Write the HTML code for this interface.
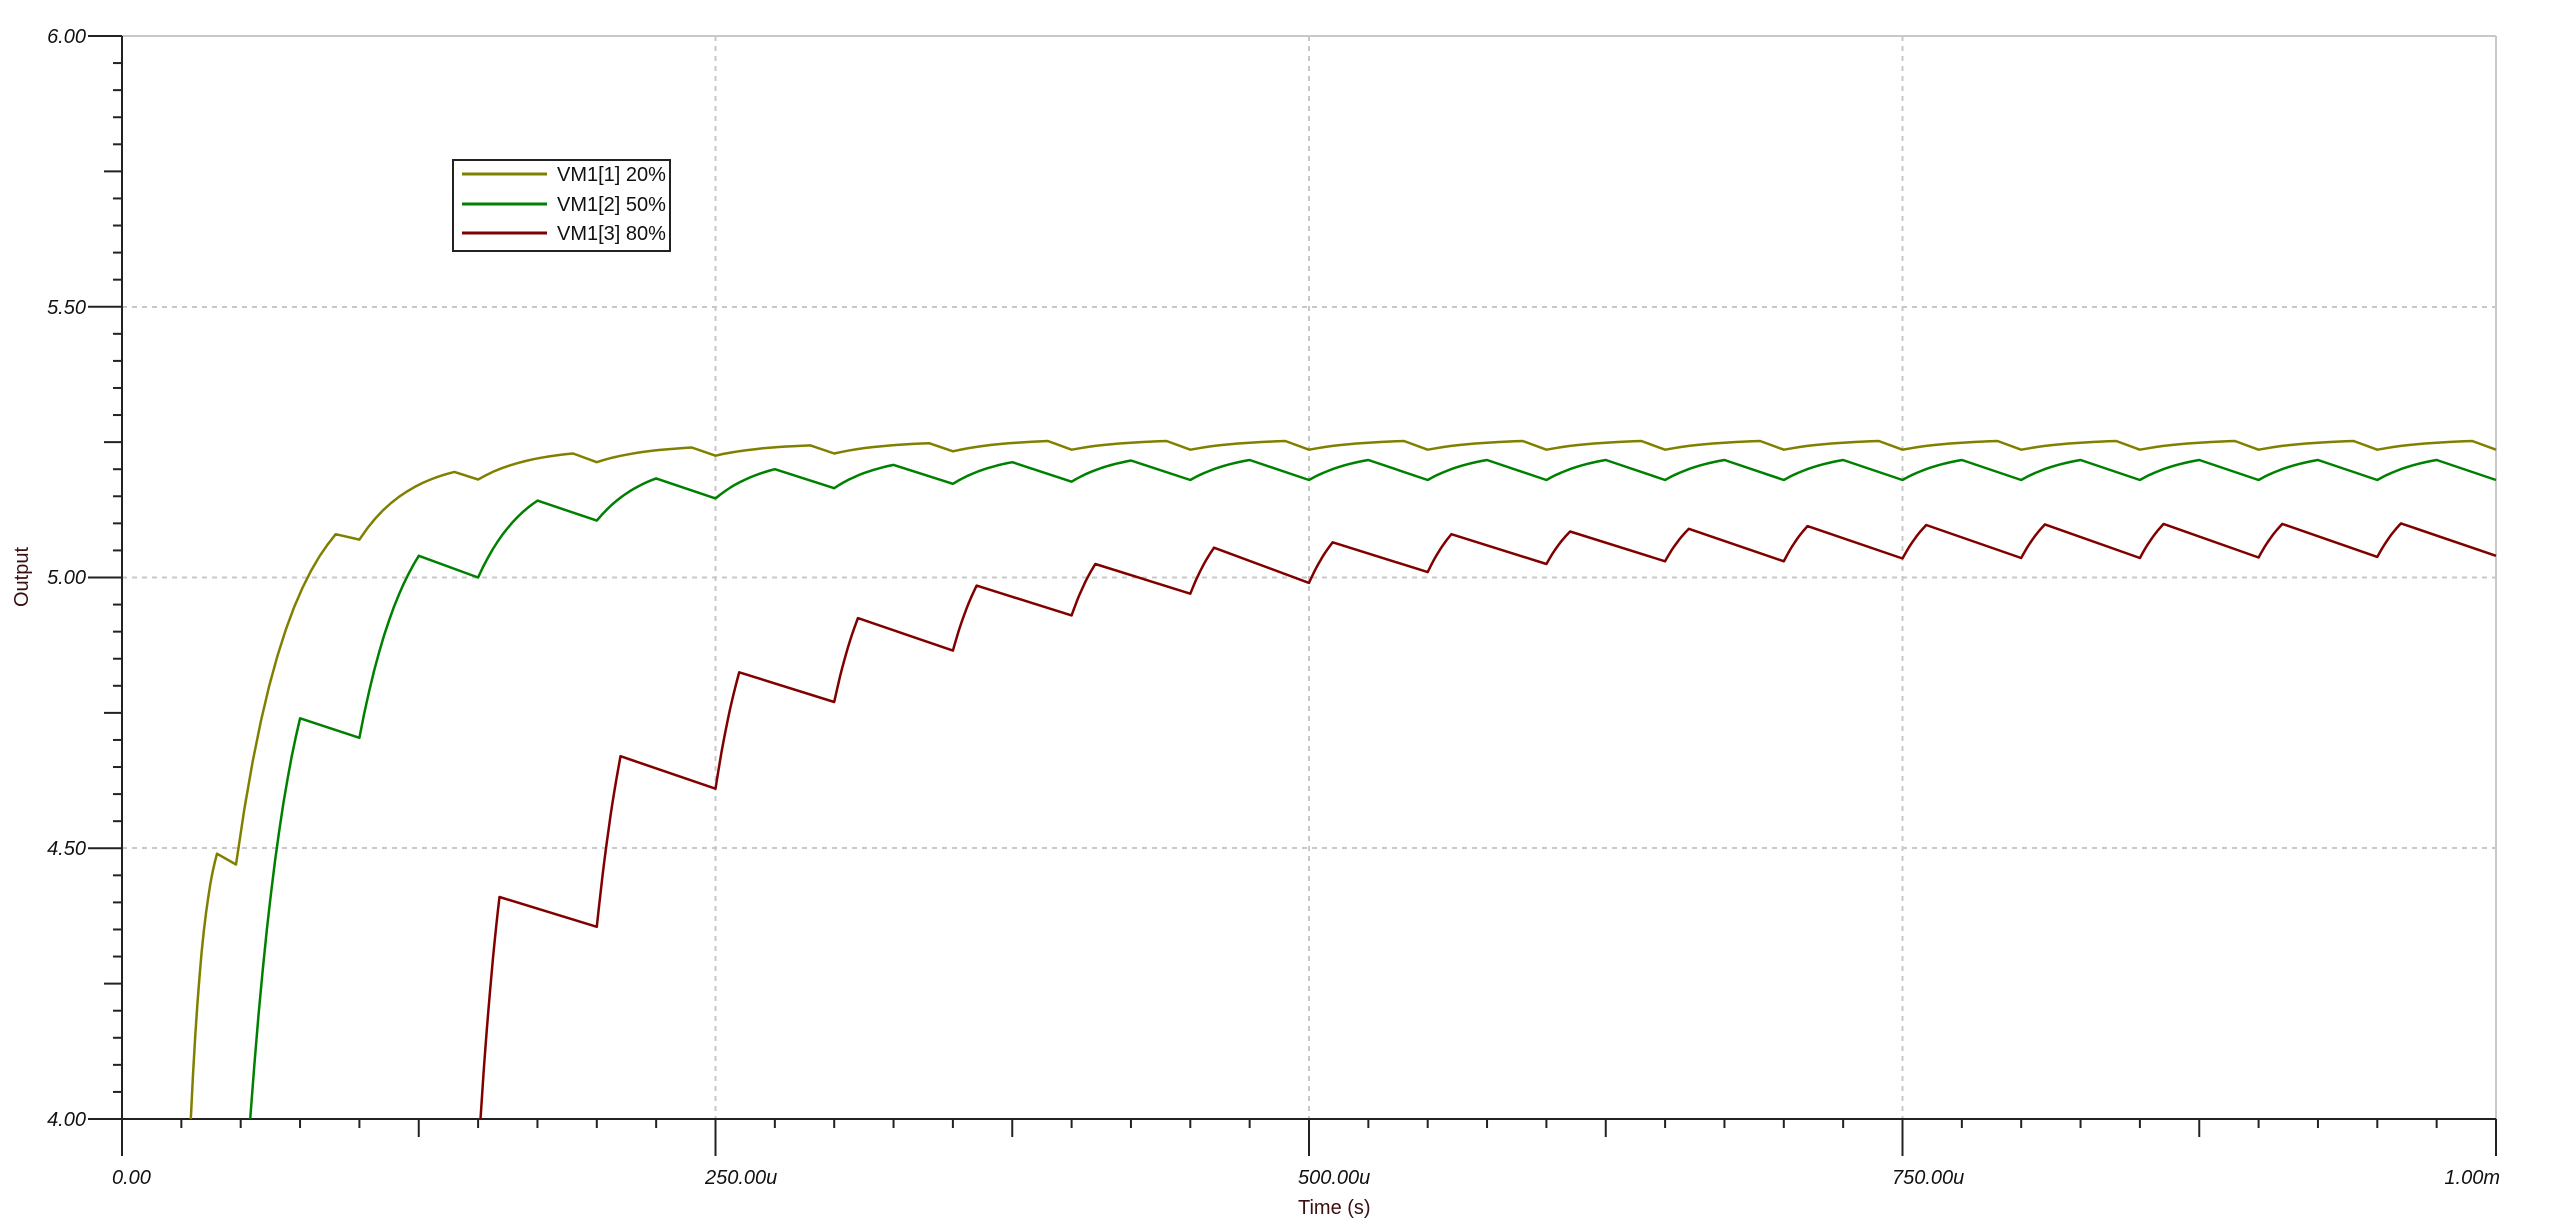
<!DOCTYPE html>
<html><head><style>
body{margin:0;background:#fff}
svg text{font-family:"Liberation Sans",sans-serif}
</style></head><body>
<svg id="s" width="2550" height="1223" xmlns="http://www.w3.org/2000/svg">
<rect width="2550" height="1223" fill="#fff"/>
<g id="grid" stroke="#c8c8c8" stroke-width="2" stroke-dasharray="5,5" fill="none">
<line x1="122" y1="307" x2="2496" y2="307"/>
<line x1="122" y1="577.5" x2="2496" y2="577.5"/>
<line x1="122" y1="848" x2="2496" y2="848"/>
<line x1="715.5" y1="36" x2="715.5" y2="1119"/>
<line x1="1309" y1="36" x2="1309" y2="1119"/>
<line x1="1902.5" y1="36" x2="1902.5" y2="1119"/>
</g>
<line x1="122" y1="36" x2="2496" y2="36" stroke="#c8c8c8" stroke-width="2"/>
<line x1="2496" y1="36" x2="2496" y2="1119" stroke="#c8c8c8" stroke-width="2"/>
<g id="ax" stroke="#222" stroke-width="2"></g>
<g id="lines" fill="none" stroke-width="2.5" stroke-linejoin="round"></g>
<g font-style="italic" font-size="20" fill="#111">
<text x="86" y="43" text-anchor="end">6.00</text>
<text x="86" y="314" text-anchor="end">5.50</text>
<text x="86" y="584" text-anchor="end">5.00</text>
<text x="86" y="855" text-anchor="end">4.50</text>
<text x="86" y="1126" text-anchor="end">4.00</text>
<text x="112" y="1184">0.00</text>
<text x="705" y="1184">250.00u</text>
<text x="1298" y="1184">500.00u</text>
<text x="1892" y="1184">750.00u</text>
<text x="2500" y="1184" text-anchor="end">1.00m</text>
</g>
<text x="1298" y="1214" font-size="20" fill="#3a1010">Time (s)</text>
<text transform="translate(28,577) rotate(-90)" text-anchor="middle" font-size="20" fill="#3a1010">Output</text>
<rect x="453" y="160" width="217" height="91" fill="#fff" stroke="#222" stroke-width="2"/>
<line x1="462" y1="174" x2="547" y2="174" stroke="#808000" stroke-width="3"/>
<line x1="462" y1="204" x2="547" y2="204" stroke="#008000" stroke-width="3"/>
<line x1="462" y1="233" x2="547" y2="233" stroke="#800000" stroke-width="3"/>
<g font-size="20" fill="#111">
<text x="557" y="181">VM1[1] 20%</text>
<text x="557" y="211">VM1[2] 50%</text>
<text x="557" y="240">VM1[3] 80%</text>
</g>
</svg>
<script>
var X=function(t){return 122+t*2.374},Y=function(v){return 36+(6-v)*541.5};
var ax=document.getElementById('ax'),h='';
h+='<line x1="122" y1="36" x2="122" y2="1119"/><line x1="122" y1="1119" x2="2496" y2="1119"/>';
for(var i=0;i<=40;i++){var y=36+i*27.075,L=(i%10==0)?34:(i%5==0)?18:9;h+='<line x1="'+(122-L)+'" y1="'+y+'" x2="122" y2="'+y+'"/>';}
for(var i=0;i<=40;i++){var x=X(i*25),L=(i%10==0)?37:(i%5==0)?18:9;h+='<line x1="'+x+'" y1="1119" x2="'+x+'" y2="'+(1119+L)+'"/>';}
ax.innerHTML=h;
function curve(pts,K){
 var out=[[pts[0][0],pts[0][1]]];
 for(var i=1;i<pts.length;i++){var a=pts[i-1],b=pts[i];
  if(b[2]=='c'){for(var k=1;k<=12;k++){var s=k/12,f=(1-Math.exp(-K*s))/(1-Math.exp(-K));out.push([a[0]+(b[0]-a[0])*s,a[1]+(b[1]-a[1])*f]);}}
  else out.push([b[0],b[1]]);}
 return out;}
var p1=[[29,4.0],[40,4.49,'c'],[48,4.47],[90,5.08,'c'],[100,5.07],[140,5.195,'c'],[150,5.181],[190,5.229,'c'],[200,5.213],[240,5.24,'c'],[250,5.225]];
for(var k=5;k<20;k++){var pk=Math.min(5.252,5.24+(k-4)*0.004),tr=Math.min(5.236,5.225+(k-4)*0.004);p1.push([k*50+40,pk,'c']);p1.push([k*50+50,tr]);}
var pk2=[4.74,5.04,5.142,5.183,5.20,5.208,5.213,5.216],tr2=[4.704,5.0,5.105,5.146,5.165,5.173,5.177,5.18];
var p2=[[54,4.0],[75,4.74,'c'],[100,4.704]];
for(var k=2;k<20;k++){var pk=pk2[Math.min(k-1,7)],tr=tr2[Math.min(k-1,7)];if(k>8){pk=5.217;tr=5.18;}p2.push([k*50+25,pk,'c']);p2.push([k*50+50,tr]);}
var pk3=[4.41,4.67,4.825,4.925,4.985,5.025,5.055,5.065,5.08,5.085,5.09,5.095,5.097,5.098,5.099,5.099,5.1],tr3=[4.355,4.61,4.77,4.865,4.93,4.97,4.99,5.01,5.025,5.03,5.03,5.035,5.036,5.036,5.037,5.038,5.04];
var p3=[[151,4.0],[159,4.41,'c'],[200,4.355]];
for(var k=1;k<17;k++){p3.push([200+(k-1)*50+10,pk3[k],'c']);p3.push([200+k*50,tr3[k]]);}
var g=document.getElementById('lines'),s='';
[[p1,'#808000',1.8],[p2,'#008000',1.2],[p3,'#800000',0.6]].forEach(function(o){var c=curve(o[0],o[2]),d='';
 c.forEach(function(p,i){if(p[0]>1000)return;d+=(i?'L':'M')+X(p[0]).toFixed(1)+','+Y(p[1]).toFixed(1);});
 s+='<path d="'+d+'" stroke="'+o[1]+'"/>';});
g.innerHTML=s;
</script>
</body></html>
